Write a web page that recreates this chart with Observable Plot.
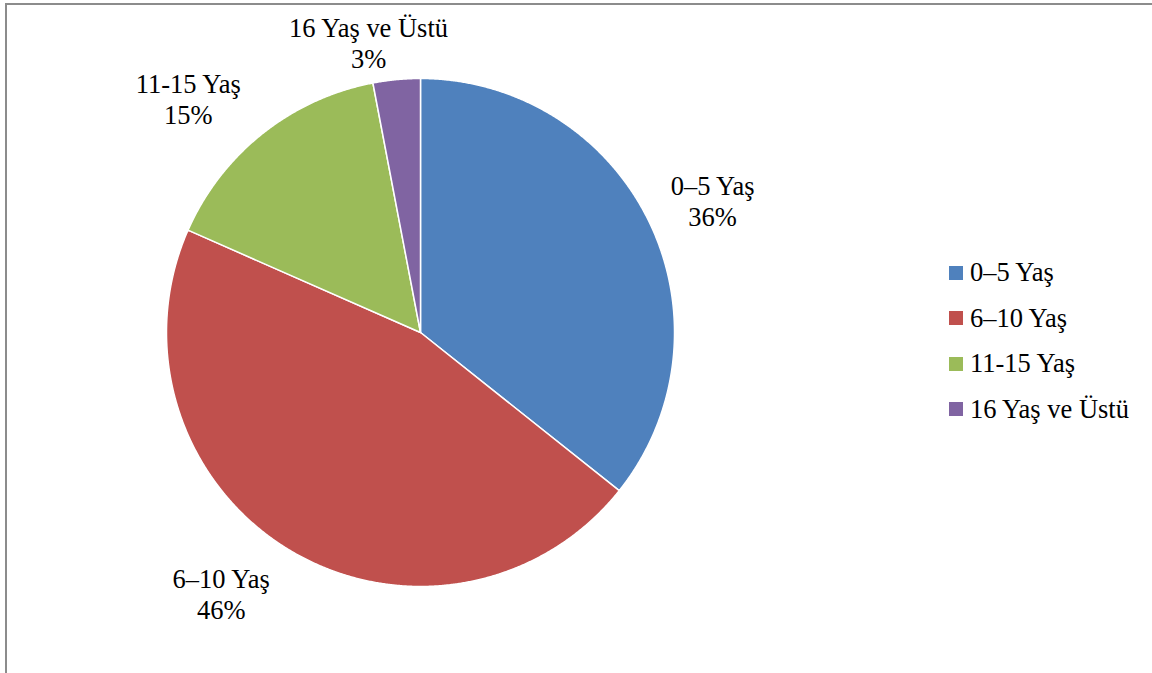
<!DOCTYPE html>
<html><head><meta charset="utf-8">
<script src="https://cdn.jsdelivr.net/npm/d3@7"></script>
<script src="https://cdn.jsdelivr.net/npm/@observablehq/plot@0.6"></script>
<style>
body{margin:0;background:#fff;}
#wrap{position:relative;width:1152px;height:673px;overflow:hidden;background:#fff;}
#wrap svg{position:absolute;left:0;top:0;}
#frame{position:absolute;left:5px;top:3px;width:1300px;height:900px;border-top:2px solid #8c8c8c;border-left:2px solid #8c8c8c;}
#legend{position:absolute;left:949px;top:250px;}
.row{display:flex;align-items:center;height:45.5px;color:#000;white-space:nowrap;}
.sw{width:14px;height:14px;margin-right:7px;flex:none;}
</style></head><body><div id="wrap"></div>
<script>
// ---- data ----
const categories = ["0–5 Yaş", "6–10 Yaş", "11-15 Yaş", "16 Yaş ve Üstü"];
const values = [35.7, 45.9, 15.4, 3.0];
const colors = ["#4F81BD", "#C0504D", "#9BBB59", "#8064A2"];

// ---- layout ----
const W = 1152, H = 673;
const CX = 420, CY = 332, R = 254;
const FAMILY = '"Liberation Serif", "Tinos", "Times New Roman", "DejaVu Serif", serif';
const LINE_PX = 31;

// font size so the longest label is ~160px wide, like the reference
const ctx = document.createElement("canvas").getContext("2d");
ctx.font = `26px ${FAMILY}`;
const FONT = Math.min(27, 26 * 160 / ctx.measureText(categories[3]).width);
ctx.font = `${FONT}px ${FAMILY}`;
const LINE = LINE_PX / FONT;

const total = d3.sum(values);
const arcs = d3.pie().sort(null).value(d => d.v)(categories.map((c, i) => ({c, v: values[i]})));

// slice outlines in unit coordinates (y up)
const pts = [];
for (const a of arcs) {
  const n = Math.max(2, Math.ceil((a.endAngle - a.startAngle) / (Math.PI / 720)));
  pts.push({cat: a.data.c, x: 0, y: 0});
  for (let k = 0; k <= n; k++) {
    const t = a.startAngle + (a.endAngle - a.startAngle) * k / n;
    pts.push({cat: a.data.c, x: Math.sin(t), y: Math.cos(t)});
  }
}

// label positions derived from slice mid angles (outside end, best fit)
const labels = arcs.map(a => {
  const text = `${a.data.c}\n${Math.round(a.data.v / total * 100)}%`;
  const w = d3.max(text.split("\n"), s => ctx.measureText(s).width);
  const h = 2 * LINE_PX;
  const mid = (a.startAngle + a.endAngle) / 2;
  const sx = Math.sin(mid), sy = -Math.cos(mid);
  const m = Math.max(Math.abs(sx), Math.abs(sy));
  const g = 10;
  const cx = sx * (R + g) + Math.sign(sx) * (w / 2) * 1.28 * Math.min(1, 2.8 * Math.abs(sx) / m);
  const cy = sy * (R + g) + Math.sign(sy) * (h / 2) * Math.sqrt(Math.abs(sy) / m);
  return {text, x: cx / R, y: -cy / R};
});

const chart = Plot.plot({
  width: W, height: H,
  marginTop: 0, marginRight: 0, marginBottom: 0, marginLeft: 0,
  style: {fontFamily: FAMILY, background: "transparent"},
  x: {domain: [-1, 1], range: [CX - R, CX + R], axis: null},
  y: {domain: [-1, 1], range: [CY + R, CY - R], axis: null},
  color: {domain: categories, range: colors},
  marks: [
    Plot.line(pts, {x: "x", y: "y", z: "cat", fill: "cat", stroke: "white", strokeWidth: 1.5, curve: "linear-closed"}),
    Plot.text(labels, {x: "x", y: "y", text: "text", dy: 4, fontSize: FONT, fontFamily: FAMILY, lineHeight: LINE, fill: "black", textAnchor: "middle", lineAnchor: "middle"})
  ]
});

const wrap = document.getElementById("wrap");
wrap.appendChild(chart);

const legend = document.createElement("div");
legend.id = "legend";
legend.style.fontFamily = FAMILY;
legend.style.fontSize = FONT + "px";
categories.forEach((c, i) => {
  const row = document.createElement("div");
  row.className = "row";
  const sw = document.createElement("div");
  sw.className = "sw";
  sw.style.background = colors[i];
  const t = document.createElement("span");
  t.textContent = c;
  row.appendChild(sw); row.appendChild(t);
  legend.appendChild(row);
});
wrap.appendChild(legend);

const frame = document.createElement("div");
frame.id = "frame";
wrap.appendChild(frame);
</script>
</body></html>
